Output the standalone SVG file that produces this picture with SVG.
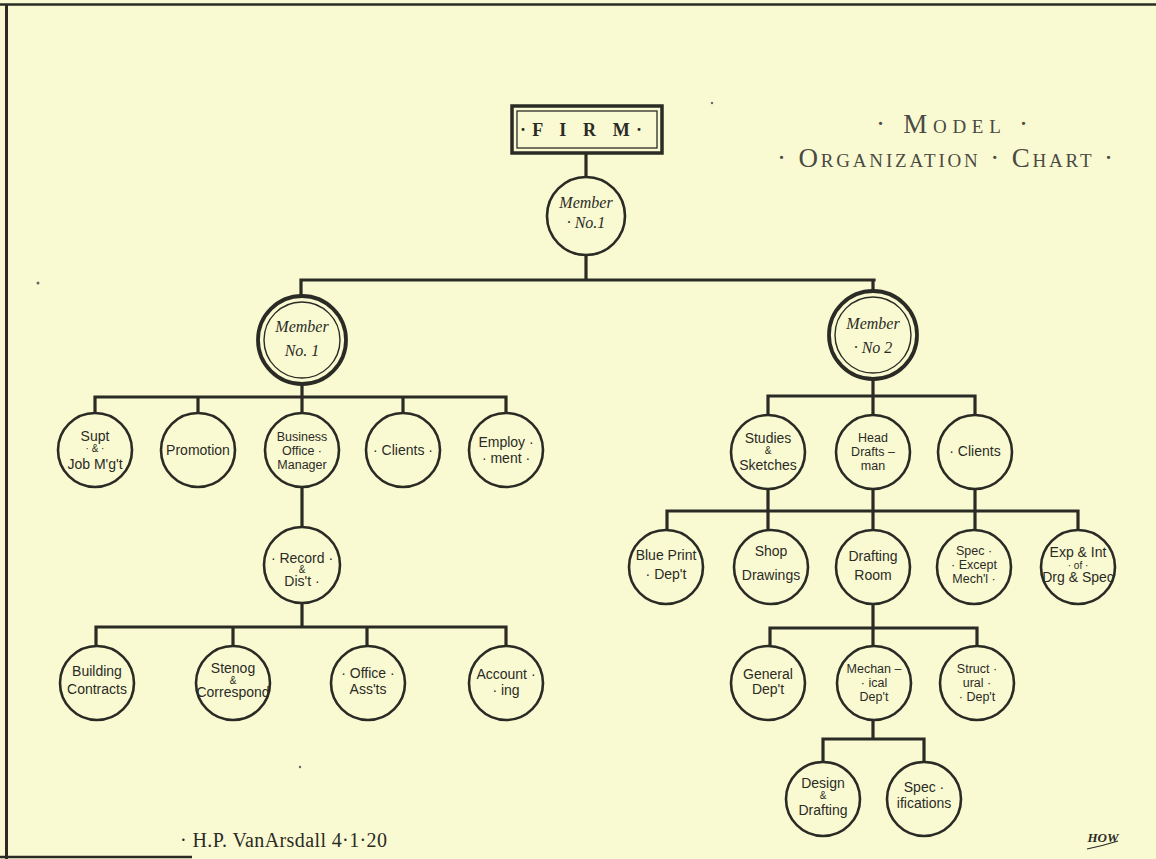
<svg xmlns="http://www.w3.org/2000/svg" width="1156" height="859" viewBox="0 0 1156 859">
<defs>
<style>
.bg{fill:#fafad2}
.ln{stroke:#2b2b26;stroke-width:3.2;fill:none;stroke-linecap:square}
.c{fill:#fafad2;stroke:#2b2b26;stroke-width:2.6}
.co{fill:#fafad2;stroke:#2b2b26;stroke-width:3.8}
.ci{fill:none;stroke:#2b2b26;stroke-width:1.4}
.t{font-family:"Liberation Sans","DejaVu Sans",sans-serif;font-size:14px;fill:#2b2b26;text-anchor:middle}
.t3{font-size:12.5px}
.tm{font-family:"Liberation Serif","DejaVu Serif",serif;font-size:16px;font-style:italic;fill:#2b2b26;text-anchor:middle}
.sm{font-size:10px}
.title{font-family:"Liberation Serif","DejaVu Serif",serif;fill:#4a4a44}
.speck{fill:#666}
</style>
</defs>
<rect class="bg" x="0" y="0" width="1156" height="859"/>
<!-- frame -->
<g id="frame" stroke="#2b2b26" fill="none">
<line x1="0" y1="4.5" x2="1156" y2="4.5" stroke-width="2.5"/>
<line x1="6.5" y1="4" x2="6.5" y2="859" stroke-width="3"/>
<line x1="0" y1="857" x2="192" y2="857" stroke-width="2.5"/>
</g>
<!-- specks -->
<circle class="speck" cx="712" cy="103" r="1.2"/>
<circle class="speck" cx="38" cy="283" r="1.5"/>
<circle class="speck" cx="300" cy="767" r="1.2"/>

<!-- title -->
<g id="title">
<text class="title" x="876" y="133" font-size="27" textLength="152" lengthAdjust="spacing">· M<tspan font-size="19">ODEL</tspan> ·</text>
<text class="title" x="777" y="167" font-size="27" textLength="336" lengthAdjust="spacing">· O<tspan font-size="19">RGANIZATION</tspan> · C<tspan font-size="19">HART</tspan> ·</text>
</g>

<!-- connectors -->
<g id="connectors" class="ln">
<path d="M586 154V177M586 255V280M301 280H874M301 280V296M873 280V291"/>
<path d="M302 384V397M95 397H506M95 397V413M198 397V413M302 397V413M403 397V413M506 397V413"/>
<path d="M302 487V527M302 603V627M96 627H506M96 627V646M233 627V646M367 627V646M506 627V646"/>
<path d="M873 379V396M768 396H975M768 396V415M873 396V415M975 396V415"/>
<path d="M768 489V511M873 489V511M975 489V511M667 511H1078M667 511V530M768 511V530M873 511V530M975 511V530M1078 511V530"/>
<path d="M873 604V628M770 628H977M770 628V646M873 628V646M977 628V646"/>
<path d="M873 720V739M823 739H924M823 739V762M924 739V762"/>
</g>

<!-- nodes -->
<g id="firm">
<rect x="512" y="106" width="150" height="47" fill="#fafad2" stroke="#2b2b26" stroke-width="3.5"/>
<rect x="517" y="111" width="140" height="37" fill="none" stroke="#2b2b26" stroke-width="1.3"/>
<text x="520" y="136" font-family="'Liberation Serif','DejaVu Serif',serif" font-size="18" font-weight="bold" fill="#2b2b26" textLength="122" lengthAdjust="spacing">·F I R M·</text>
</g>
<g id="member-top">
<circle class="c" cx="586" cy="216" r="39"/>
<text class="tm" x="586" y="208">Member</text>
<text class="tm" x="586" y="228">· No.1</text>
</g>
<g id="member-1">
<circle class="co" cx="302" cy="340" r="44"/>
<circle class="ci" cx="302" cy="340" r="38"/>
<text class="tm" x="302" y="332">Member</text>
<text class="tm" x="302" y="356">No. 1</text>
</g>
<g id="member-2">
<circle class="co" cx="873" cy="335" r="44"/>
<circle class="ci" cx="873" cy="335" r="38"/>
<text class="tm" x="873" y="329">Member</text>
<text class="tm" x="873" y="353">· No 2</text>
</g>

<!-- left branch -->
<g id="supt">
<circle class="c" cx="95" cy="450" r="37"/>
<text class="t" x="95" y="441">Supt</text>
<text class="t sm" x="95" y="452">· &amp; ·</text>
<text class="t" x="95" y="469">Job M'g't</text>
</g>
<g id="promotion">
<circle class="c" cx="198" cy="450" r="37"/>
<text class="t" x="198" y="455">Promotion</text>
</g>
<g id="business-office-manager">
<circle class="c" cx="302" cy="450" r="37"/>
<text class="t t3" x="302" y="441">Business</text>
<text class="t t3" x="302" y="455">Office ·</text>
<text class="t t3" x="302" y="469">Manager</text>
</g>
<g id="clients-left">
<circle class="c" cx="403" cy="450" r="37"/>
<text class="t" x="403" y="455">· Clients ·</text>
</g>
<g id="employment">
<circle class="c" cx="506" cy="450" r="37"/>
<text class="t" x="506" y="447">Employ ·</text>
<text class="t" x="506" y="463">· ment ·</text>
</g>
<g id="record-dist">
<circle class="c" cx="302" cy="565" r="38"/>
<text class="t" x="302" y="563">· Record ·</text>
<text class="t sm" x="302" y="573">&amp;</text>
<text class="t" x="302" y="586">Dis't ·</text>
</g>
<g id="building-contracts">
<circle class="c" cx="97" cy="683" r="37"/>
<text class="t" x="97" y="676">Building</text>
<text class="t" x="97" y="694">Contracts</text>
</g>
<g id="stenog-correspond">
<circle class="c" cx="233" cy="683" r="37"/>
<text class="t" x="233" y="673">Stenog</text>
<text class="t sm" x="233" y="684">&amp;</text>
<text class="t" x="233" y="697" font-size="12">Correspond</text>
</g>
<g id="office-assts">
<circle class="c" cx="368" cy="683" r="37"/>
<text class="t" x="368" y="678">· Office ·</text>
<text class="t" x="368" y="694">Ass'ts</text>
</g>
<g id="accounting">
<circle class="c" cx="506" cy="683" r="37"/>
<text class="t" x="506" y="679">Account ·</text>
<text class="t" x="506" y="695">· ing</text>
</g>

<!-- right branch -->
<g id="studies-sketches">
<circle class="c" cx="768" cy="452" r="37"/>
<text class="t" x="768" y="443">Studies</text>
<text class="t sm" x="768" y="454">&amp;</text>
<text class="t" x="768" y="470">Sketches</text>
</g>
<g id="head-draftsman">
<circle class="c" cx="873" cy="452" r="37"/>
<text class="t t3" x="873" y="442">Head</text>
<text class="t t3" x="873" y="456">Drafts –</text>
<text class="t t3" x="873" y="470">man</text>
</g>
<g id="clients-right">
<circle class="c" cx="975" cy="452" r="37"/>
<text class="t" x="975" y="456">· Clients</text>
</g>
<g id="blue-print-dept">
<circle class="c" cx="666" cy="567" r="37"/>
<text class="t" x="666" y="560" font-size="13">Blue Print</text>
<text class="t" x="666" y="579">· Dep't</text>
</g>
<g id="shop-drawings">
<circle class="c" cx="771" cy="567" r="37"/>
<text class="t" x="771" y="556">Shop</text>
<text class="t" x="771" y="580">Drawings</text>
</g>
<g id="drafting-room">
<circle class="c" cx="873" cy="567" r="37"/>
<text class="t" x="873" y="561">Drafting</text>
<text class="t" x="873" y="580">Room</text>
</g>
<g id="spec-except-mechl">
<circle class="c" cx="974" cy="567" r="37"/>
<text class="t t3" x="974" y="555">Spec ·</text>
<text class="t t3" x="974" y="569">· Except</text>
<text class="t t3" x="974" y="583">Mech'l ·</text>
</g>
<g id="exp-int-drg-spec">
<circle class="c" cx="1078" cy="567" r="37"/>
<text class="t" x="1078" y="557" font-size="11.5">Exp &amp; Int</text>
<text class="t sm" x="1078" y="569">· of ·</text>
<text class="t" x="1078" y="582" font-size="11.5">Drg &amp; Spec</text>
</g>
<g id="general-dept">
<circle class="c" cx="768" cy="683" r="37"/>
<text class="t" x="768" y="679">General</text>
<text class="t" x="768" y="694">Dep't</text>
</g>
<g id="mechanical-dept">
<circle class="c" cx="874" cy="683" r="37"/>
<text class="t t3" x="874" y="673">Mechan –</text>
<text class="t t3" x="874" y="687">· ical</text>
<text class="t t3" x="874" y="701">Dep't</text>
</g>
<g id="structural-dept">
<circle class="c" cx="977" cy="683" r="37"/>
<text class="t t3" x="977" y="673">Struct ·</text>
<text class="t t3" x="977" y="687">ural ·</text>
<text class="t t3" x="977" y="701">· Dep't</text>
</g>
<g id="design-drafting">
<circle class="c" cx="823" cy="799" r="37"/>
<text class="t" x="823" y="788">Design</text>
<text class="t sm" x="823" y="799">&amp;</text>
<text class="t" x="823" y="815">Drafting</text>
</g>
<g id="specifications">
<circle class="c" cx="924" cy="799" r="37"/>
<text class="t" x="924" y="792">Spec ·</text>
<text class="t" x="924" y="808">ifications</text>
</g>

<!-- signatures -->
<text x="180" y="847" font-family="'Liberation Serif','DejaVu Serif',serif" font-size="20" fill="#2b2b26" textLength="207" lengthAdjust="spacing">· H.P. VanArsdall 4·1·20</text>
<text x="1103" y="842" font-family="'Liberation Serif','DejaVu Serif',serif" font-size="13" font-style="italic" font-weight="bold" fill="#2b2b26" text-anchor="middle">HOW</text>
<path d="M1087 849Q1102 846 1118 841" stroke="#2b2b26" stroke-width="1.2" fill="none"/>
</svg>
